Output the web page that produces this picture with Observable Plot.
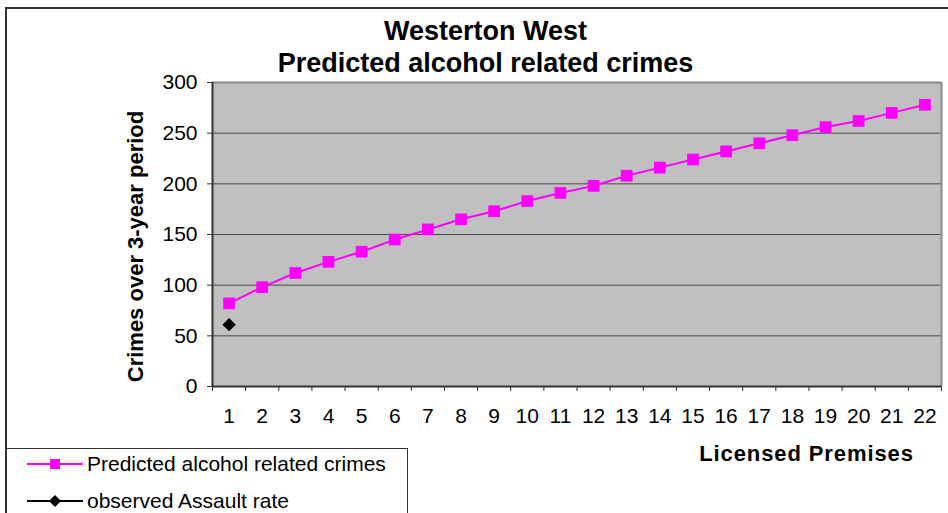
<!DOCTYPE html>
<html>
<head>
<meta charset="utf-8">
<script src="https://cdn.jsdelivr.net/npm/d3@7"></script>
<script src="https://cdn.jsdelivr.net/npm/@observablehq/plot@0.6"></script>
<style>
  html, body { margin: 0; padding: 0; background: #fff; }
  #wrap { position: relative; width: 948px; height: 513px; overflow: hidden; font-family: "Liberation Sans", Arial, sans-serif; }
  #wrap > svg { position: absolute; left: 0; top: 0; }
  #outer { position: absolute; left: 5px; top: 7px; width: 1000px; height: 600px; border-left: 2px solid #333; border-top: 2px solid #333; box-sizing: border-box; pointer-events: none; }
  #legend { position: absolute; left: 5px; top: 448px; width: 403px; height: 100px; border: 1px solid #333; border-left: 2px solid #333; box-sizing: border-box; background: #fff; }
  .row { position: absolute; left: 0; height: 30px; display: flex; align-items: center; font-size: 21px; color: #000; white-space: nowrap; }
  .row svg { margin-left: 20px; margin-right: 4px; }
</style>
</head>
<body>
<div id="wrap">
  <div id="outer"></div>
</div>
<script>
const premises = [1, 2, 3, 4, 5, 6, 7, 8, 9, 10, 11, 12, 13, 14, 15, 16, 17, 18, 19, 20, 21, 22];
const predicted = [82, 98, 112, 123, 133, 145, 155, 165, 173, 183, 191, 198, 208, 216, 224, 232, 240, 248, 256, 262, 270, 278];
const observedPremises = [1];
const observed = [61];
const yTicks = [0, 50, 100, 150, 200, 250, 300];
const gridValues = [50, 100, 150, 200, 250];
const titleLines = ["Westerton West", "Predicted alcohol related crimes"];
const yLabel = "Crimes over 3-year period";
const xLabel = "Licensed Premises";
const seriesNames = ["Predicted alcohol related crimes", "observed Assault rate"];

const predData = premises.map((p, i) => ({premises: p, value: predicted[i]}));
const obsData = observedPremises.map((p, i) => ({premises: p, value: observed[i]}));
const xMin = premises[0] - 0.5, xMax = premises[premises.length - 1] + 0.5;
const boundaries = [xMin, ...premises.map(p => p + 0.5)];

const chart = Plot.plot({
  width: 948,
  height: 513,
  marginLeft: 212,
  marginRight: 7,
  marginTop: 82,
  marginBottom: 127,
  style: {fontFamily: "'Liberation Sans', Arial, sans-serif", fontSize: "21px", background: "transparent", color: "#000"},
  x: {domain: [xMin, xMax], axis: null},
  y: {domain: [0, 300], axis: null},
  marks: [
    Plot.frame({fill: "#C0C0C0", stroke: null}),
    Plot.ruleY(gridValues, {stroke: "#4a4a4a", strokeWidth: 1}),
    Plot.ruleY([300], {stroke: "#8a8a8a", strokeWidth: 2}),
    Plot.ruleX([xMax], {stroke: "#8a8a8a", strokeWidth: 2}),
    Plot.ruleX([xMin], {stroke: "#333", strokeWidth: 2}),
    Plot.ruleY([0], {stroke: "#333", strokeWidth: 2}),
    Plot.axisY({ticks: yTicks, tickSize: 5, tickPadding: 10, label: null, stroke: "#333", fontSize: 21}),
    Plot.axisX({ticks: boundaries, tickSize: 5, tickFormat: () => "", label: null, stroke: "#333"}),
    Plot.axisX({ticks: premises, tickSize: 0, tickPadding: 22, tickFormat: d => String(d), label: null, fontSize: 21}),
    Plot.line(predData, {x: "premises", y: "value", stroke: "#FF00FF", strokeWidth: 2}),
    Plot.dot(predData, {x: "premises", y: "value", symbol: "square", r: 6.6, fill: "#FF00FF", stroke: null}),
    Plot.dot(obsData, {x: "premises", y: "value", symbol: "diamond2", r: 6, fill: "#000", stroke: null}),
    Plot.text([titleLines[0]], {frameAnchor: "top", dx: -91.5, dy: -43, lineAnchor: "bottom", fontSize: 27, fontWeight: "bold", text: d => d}),
    Plot.text([titleLines[1]], {frameAnchor: "top", dx: -91.5, dy: -11, lineAnchor: "bottom", fontSize: 27, fontWeight: "bold", text: d => d}),
    Plot.text([yLabel], {frameAnchor: "left", rotate: -90, dx: -77, dy: 12, lineAnchor: "middle", textAnchor: "middle", fontSize: 22, fontWeight: "bold", text: d => d}),
    Plot.text([xLabel], {frameAnchor: "bottom", dx: 229.5, dy: 74, lineAnchor: "bottom", fontSize: 22, fontWeight: "bold", text: d => d})
  ]
});
d3.select(chart).selectAll("text").filter(function() { return this.textContent === xLabel; }).style("letter-spacing", "0.9px");
const wrap = document.getElementById("wrap");
wrap.insertBefore(chart, wrap.firstChild);

// legend
const legend = document.createElement("div");
legend.id = "legend";
const rows = [
  {name: seriesNames[0], color: "#FF00FF", symbol: "square", top: 0},
  {name: seriesNames[1], color: "#000", symbol: "diamond", top: 37}
];
rows.forEach(r => {
  const row = document.createElement("div");
  row.className = "row";
  row.style.top = r.top + "px";
  const svg = d3.create("svg").attr("width", 56).attr("height", 16);
  svg.append("line").attr("x1", 0).attr("x2", 56).attr("y1", 8).attr("y2", 8).attr("stroke", r.color).attr("stroke-width", 2);
  if (r.symbol === "square") {
    svg.append("rect").attr("x", 23).attr("y", 3).attr("width", 10).attr("height", 10).attr("fill", r.color);
  } else {
    svg.append("path").attr("d", "M28,2 L34,8 L28,14 L22,8 Z").attr("fill", r.color);
  }
  row.appendChild(svg.node());
  const span = document.createElement("span");
  span.textContent = r.name;
  row.appendChild(span);
  legend.appendChild(row);
});
wrap.appendChild(legend);
</script>
</body>
</html>
